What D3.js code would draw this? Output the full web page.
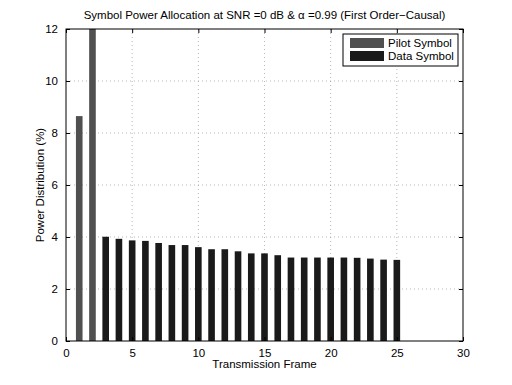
<!DOCTYPE html>
<html>
<head>
<meta charset="utf-8">
<script src="https://cdn.jsdelivr.net/npm/d3@7"></script>
<style>
  body { margin: 0; background: #fff; }
  svg text { font-family: "Liberation Sans", Arial, sans-serif; fill: #000; }
</style>
</head>
<body>
<div id="chart"></div>
<script>
// values
const pilotFrames = [1, 2];
const pilotValues = [8.65, 12.0];
const dataFrames = [3, 4, 5, 6, 7, 8, 9, 10, 11, 12, 13, 14, 15, 16, 17, 18, 19, 20, 21, 22, 23, 24, 25];
const dataValues = [4.01, 3.93, 3.87, 3.85, 3.77, 3.69, 3.69, 3.61, 3.53, 3.53, 3.45, 3.37, 3.37, 3.30,
                    3.21, 3.21, 3.21, 3.21, 3.21, 3.20, 3.17, 3.13, 3.12];
const xTicks = [0, 5, 10, 15, 20, 25, 30];
const yTicks = [0, 2, 4, 6, 8, 10, 12];
const legendLabels = ["Pilot Symbol", "Data Symbol"];
const colors = ["#505050", "#1a1a1a"];

const width = 512, height = 385;
const margin = {top: 29, right: 49, bottom: 44, left: 66};
const iw = width - margin.left - margin.right;
const ih = height - margin.top - margin.bottom;

const svg = d3.select("#chart").append("svg")
    .attr("width", width)
    .attr("height", height);

const g = svg.append("g")
    .attr("transform", `translate(${margin.left},${margin.top})`);

const x = d3.scaleLinear().domain([0, 30]).range([0, iw]);
const y = d3.scaleLinear().domain([0, 12]).range([ih, 0]);
const barW = x(0.5) - x(0);

// grid
g.selectAll(".gx").data(xTicks.slice(1, -1)).enter().append("line")
    .attr("x1", d => x(d)).attr("x2", d => x(d))
    .attr("y1", 0).attr("y2", ih)
    .attr("stroke", "#888").attr("stroke-width", 0.6)
    .attr("stroke-dasharray", "1,3");
g.selectAll(".gy").data(yTicks.slice(1, -1)).enter().append("line")
    .attr("x1", 0).attr("x2", iw)
    .attr("y1", d => y(d)).attr("y2", d => y(d))
    .attr("stroke", "#888").attr("stroke-width", 0.6)
    .attr("stroke-dasharray", "1,3");

// bars
g.selectAll(".pilot").data(pilotFrames).enter().append("rect")
    .attr("x", d => x(d) - barW / 2)
    .attr("y", (d, i) => y(pilotValues[i]))
    .attr("width", barW)
    .attr("height", (d, i) => ih - y(pilotValues[i]))
    .attr("fill", colors[0]);

g.selectAll(".data").data(dataFrames).enter().append("rect")
    .attr("x", d => x(d) - barW / 2)
    .attr("y", (d, i) => y(dataValues[i]))
    .attr("width", barW)
    .attr("height", (d, i) => ih - y(dataValues[i]))
    .attr("fill", colors[1]);

// box
g.append("rect")
    .attr("width", iw).attr("height", ih)
    .attr("fill", "none").attr("stroke", "#000").attr("stroke-width", 1);

// axes with inward ticks
const xAxis = g.append("g").attr("transform", `translate(0,${ih})`)
    .call(d3.axisBottom(x).tickValues(xTicks).tickSizeInner(-4).tickSizeOuter(0).tickPadding(8));
const xTop = g.append("g")
    .call(d3.axisTop(x).tickValues(xTicks).tickSizeInner(-4).tickSizeOuter(0).tickFormat(""));
const yAxis = g.append("g")
    .call(d3.axisLeft(y).tickValues(yTicks).tickSizeInner(-4).tickSizeOuter(0).tickPadding(8));
const yRight = g.append("g").attr("transform", `translate(${iw},0)`)
    .call(d3.axisRight(y).tickValues(yTicks).tickSizeInner(-4).tickSizeOuter(0).tickFormat(""));

[xAxis, xTop, yAxis, yRight].forEach(a => {
    a.select(".domain").remove();
    a.selectAll("text").style("font-size", "11.5px")
        .style("font-family", "'Liberation Sans', Arial, sans-serif");
});

// labels
svg.append("text")
    .attr("x", margin.left + iw / 2).attr("y", 19)
    .attr("text-anchor", "middle").style("font-size", "11.5px")
    .text("Symbol Power Allocation at SNR =0 dB & \u03b1 =0.99 (First Order\u2212Causal)");

svg.append("text")
    .attr("x", margin.left + iw / 2).attr("y", 368)
    .attr("text-anchor", "middle").style("font-size", "11.5px")
    .text("Transmission Frame");

svg.append("text")
    .attr("transform", `translate(44,${margin.top + ih / 2}) rotate(-90)`)
    .attr("text-anchor", "middle").style("font-size", "11.5px")
    .text("Power Distribution (%)");

// legend
const leg = g.append("g").attr("transform", `translate(${iw - 120},5)`);
leg.append("rect")
    .attr("width", 115).attr("height", 32)
    .attr("fill", "#fff").attr("stroke", "#000").attr("stroke-width", 1);
legendLabels.forEach((lab, i) => {
    leg.append("rect")
        .attr("x", 7).attr("y", 4 + i * 13)
        .attr("width", 34).attr("height", 10)
        .attr("fill", colors[i]);
    leg.append("text")
        .attr("x", 45).attr("y", 13 + i * 13)
        .style("font-size", "11.5px")
        .text(lab);
});
</script>
</body>
</html>
